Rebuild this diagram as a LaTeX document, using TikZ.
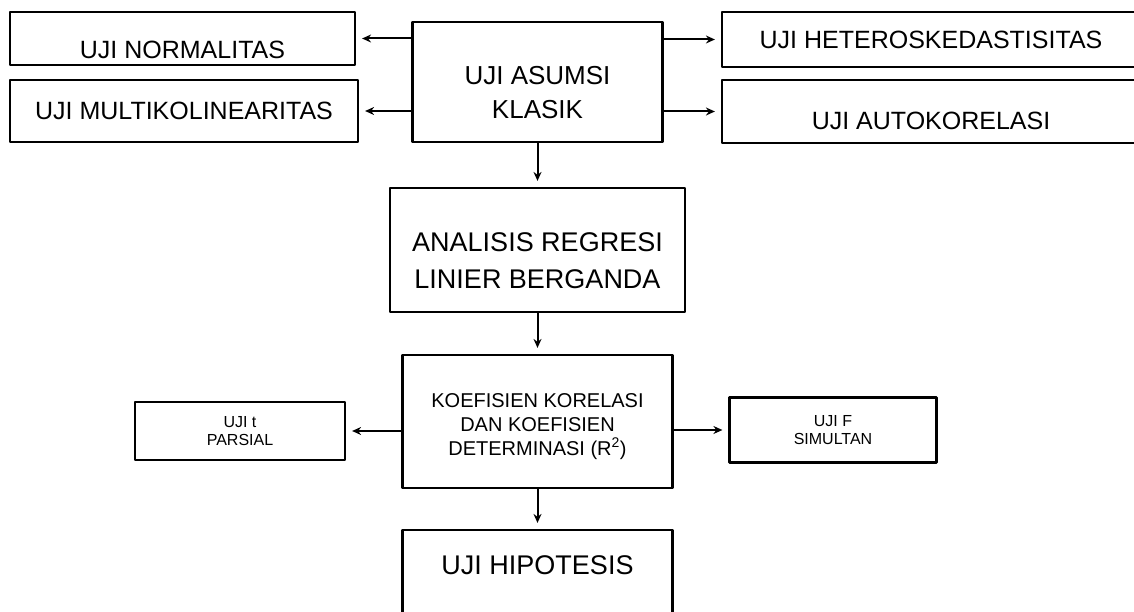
\documentclass[tikz,border=0pt]{standalone}
\usepackage{fontspec}
\setmainfont{Liberation Sans}
\usetikzlibrary{arrows.meta}
\begin{document}
\begin{tikzpicture}[x=1pt, y=-1pt, line cap=round, line join=round,
    box/.style={draw=black, line width=2.2pt, fill=white, align=center, inner sep=0pt},
    link/.style={line width=2pt, -{Stealth[length=9pt,width=8pt]}, shorten >=6pt}]
    \useasboundingbox (0,0) rectangle (1134,612);
    % top row
    \node[box, minimum width=345, minimum height=53, text height=41pt, font=\fontsize{25}{28}\selectfont] (norm) at (182.5,38.5) {UJI NORMALITAS};
    \node[box, minimum width=348, minimum height=62, font=\fontsize{25}{28}\selectfont] (multi) at (184,111) {UJI MULTIKOLINEARITAS};
    \node[box, minimum width=250, minimum height=120, text height=73pt, font=\fontsize{26}{34}\selectfont] (asumsi) at (537.5,82) {UJI ASUMSI\\KLASIK};
    \node[box, minimum width=418, minimum height=55, font=\fontsize{25}{28}\selectfont] (hetero) at (931,39.5) {UJI HETEROSKEDASTISITAS};
    \node[box, minimum width=418, minimum height=63, text height=37pt, font=\fontsize{25}{28}\selectfont] (auto) at (931,111.5) {UJI AUTOKORELASI};
    % middle column
    \node[box, minimum width=295, minimum height=124, text height=78pt, font=\fontsize{27}{37}\selectfont] (reg) at (537.5,250) {ANALISIS REGRESI\\LINIER BERGANDA};
    \node[box, minimum width=270, minimum height=133, text height=72pt, font=\fontsize{20}{24}\selectfont] (koef) at (537.5,421.5) {KOEFISIEN KORELASI\\DAN KOEFISIEN\\DETERMINASI (R\textsuperscript{2})};
    \node[box, minimum width=210, minimum height=58, font=\fontsize{16}{18}\selectfont] (ujit) at (240,431) {UJI t\\PARSIAL};
    \node[box, minimum width=207, minimum height=65, font=\fontsize{16}{18}\selectfont] (ujif) at (833,430) {UJI F\\SIMULTAN};
    \node[box, minimum width=270, minimum height=85, text depth=15pt, font=\fontsize{27}{30}\selectfont] (hipo) at (537.5,572.5) {UJI HIPOTESIS};
    % arrows
    \draw[link] (norm.east -| asumsi.west) -- (norm.east);
    \draw[link] (multi.east -| asumsi.west) -- (multi.east);
    \draw[link] (hetero.west -| asumsi.east) -- (hetero.west);
    \draw[link] (auto.west -| asumsi.east) -- (auto.west);
    \draw[link] (asumsi.south) -- (reg.north);
    \draw[link] (reg.south) -- (koef.north);
    \draw[link] (ujit.east -| koef.west) -- (ujit.east);
    \draw[link] (ujif.west -| koef.east) -- (ujif.west);
    \draw[link] (koef.south) -- (hipo.north);
\end{tikzpicture}
\end{document}
